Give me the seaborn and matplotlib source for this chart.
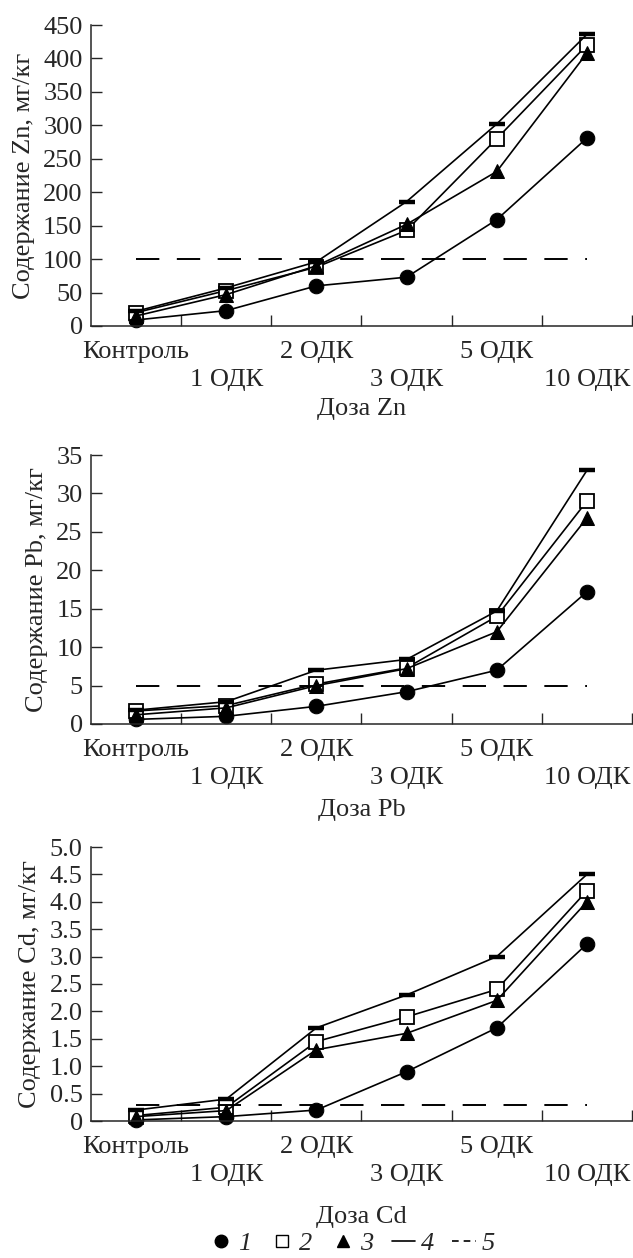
import numpy as np
import pandas as pd
import matplotlib
matplotlib.use("Agg")
import matplotlib.pyplot as plt
import seaborn as sns
from matplotlib.lines import Line2D
from matplotlib.ticker import FixedLocator

sns.set_style("ticks")
plt.rcParams['font.family'] = ['Liberation Serif', 'DejaVu Serif']

categories = ["Контроль", "1 ОДК", "2 ОДК", "3 ОДК", "5 ОДК", "10 ОДК"]

# Zn panel
zn_1 = [9, 23, 60, 73, 159, 281]
zn_2 = [20, 53, 88, 143, 280, 420]
zn_3 = [15, 47, 90, 152, 231, 408]
zn_4 = [22, 57, 96, 186, 302, 436]
zn_5 = 100

# Pb panel
pb_1 = [0.6, 1.0, 2.3, 4.2, 7.0, 17.2]
pb_2 = [1.7, 2.4, 5.2, 7.3, 14.0, 29.0]
pb_3 = [1.2, 2.1, 5.0, 7.2, 12.0, 26.8]
pb_4 = [1.8, 2.9, 7.0, 8.4, 14.7, 33.0]
pb_5 = 5

# Cd panel
cd_1 = [0.02, 0.08, 0.2, 0.9, 1.7, 3.23]
cd_2 = [0.1, 0.25, 1.45, 1.9, 2.4, 4.2]
cd_3 = [0.08, 0.19, 1.3, 1.6, 2.2, 4.0]
cd_4 = [0.2, 0.4, 1.7, 2.3, 3.0, 4.5]
cd_5 = 0.3

panels = [
    dict(el="Zn", s=[zn_1, zn_2, zn_3, zn_4], lim=zn_5, ymax=450,
         ticks=list(range(0, 451, 50)), fmt=lambda v: f"{v:g}", lp=5),
    dict(el="Pb", s=[pb_1, pb_2, pb_3, pb_4], lim=pb_5, ymax=35,
         ticks=list(range(0, 36, 5)), fmt=lambda v: f"{v:g}", lp=7),
    dict(el="Cd", s=[cd_1, cd_2, cd_3, cd_4], lim=cd_5, ymax=5.0,
         ticks=[i * 0.5 for i in range(11)],
         fmt=lambda v: "0" if v == 0 else f"{v:.1f}", lp=14),
]

W, H = 633, 1258
fig = plt.figure(figsize=(W / 100, H / 100), dpi=100)

boxes = [(25, 326), (455, 724), (847, 1121)]
left_px, right_px = 91, 632
FS = 19

styles = [
    dict(marker='o', markersize=10.5, markerfacecolor='black', markeredgecolor='black'),
    dict(marker='s', markersize=10, markerfacecolor='white', markeredgecolor='black', markeredgewidth=1.3),
    dict(marker='^', markersize=10.5, markerfacecolor='black', markeredgecolor='black'),
    dict(marker='_', markersize=11, markeredgewidth=3.2, markeredgecolor='black'),
]

x = np.arange(len(categories))
for p, (top, bot) in zip(panels, boxes):
    ax = fig.add_axes([left_px / W, (H - bot) / H, (right_px - left_px) / W, (bot - top) / H])
    for vals, st in zip(p["s"], styles):
        df = pd.DataFrame({"x": x, "y": vals})
        sns.lineplot(data=df, x="x", y="y", ax=ax, color='black', linewidth=1.2,
                     clip_on=False, **st)
    df5 = pd.DataFrame({"x": [x[0], x[-1]], "y": [p["lim"], p["lim"]]})
    sns.lineplot(data=df5, x="x", y="y", ax=ax, color='black', linewidth=1.4)
    ax.lines[-1].set_dashes((12, 9))
    ax.set_xlim(-0.5, len(categories) - 0.5)
    ax.set_ylim(0, p["ymax"])
    ax.set_yticks(p["ticks"])
    ax.set_yticklabels([p["fmt"](v) for v in p["ticks"]])
    ax.set_xticks(x)
    ax.set_xticklabels([c if i % 2 == 0 else "\n" + c for i, c in enumerate(categories)],
                       linespacing=1.35)
    ax.xaxis.set_minor_locator(FixedLocator(np.arange(0.5, len(categories), 1.0)))
    ax.tick_params(axis='x', which='major', length=0, pad=11, labelsize=FS)
    ax.tick_params(axis='x', which='minor', direction='in', length=8, width=1.0)
    ax.tick_params(axis='y', direction='in', length=8, width=1.0, pad=6, labelsize=FS)
    for sp in ['top', 'right']:
        ax.spines[sp].set_visible(False)
    for sp in ['left', 'bottom']:
        ax.spines[sp].set_linewidth(1.1)
    ax.set_ylabel(f"Содержание {p['el']}, мг/кг", fontsize=FS, labelpad=6)
    ax.set_xlabel(f"Доза {p['el']}", fontsize=FS, labelpad=p["lp"])

handles = [
    Line2D([], [], linestyle='none', marker='o', markersize=9, color='black'),
    Line2D([], [], linestyle='none', marker='s', markersize=8.5, markerfacecolor='white',
           markeredgecolor='black', markeredgewidth=1.0),
    Line2D([], [], linestyle='none', marker='^', markersize=9, color='black'),
    Line2D([], [], color='black', linewidth=1.2),
    Line2D([], [], color='black', linewidth=1.2, dashes=(4, 3)),
]
labels = ["1", "2", "3", "4", "5"]
fig.legend(handles, labels, loc='center', bbox_to_anchor=(352 / W, (H - 1243) / H),
           ncol=5, frameon=False, prop={'family': 'Liberation Serif', 'style': 'italic', 'size': FS},
           handlelength=0.9, handletextpad=0.2, columnspacing=0.7, borderpad=0.1)

fig.savefig("out.png", dpi=100)
